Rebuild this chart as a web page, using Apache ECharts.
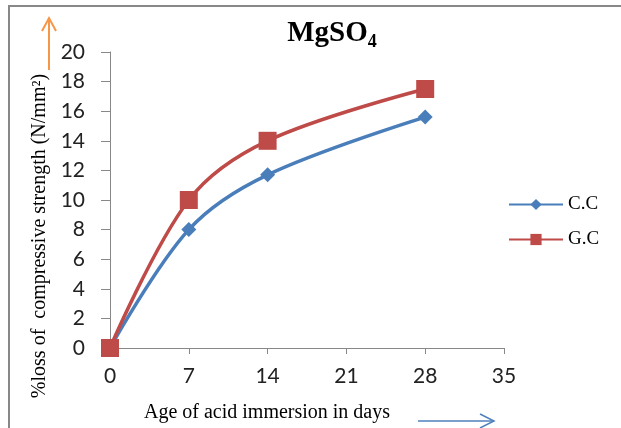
<!DOCTYPE html>
<html><head><meta charset="utf-8">
<script src="https://cdn.jsdelivr.net/npm/echarts@6/dist/echarts.min.js"></script>
<style>html,body{margin:0;padding:0;background:#fff}#c{width:621px;height:428px}</style>
</head><body><div id="c"></div>
<script>
const days = [0, 7, 14, 28];
const ccValues = [0, 8, 11.7, 15.6];
const gcValues = [0, 10, 14, 17.5];
const seriesNames = ['C.C', 'G.C'];
const xTicks = [0, 7, 14, 21, 28, 35];
const yTicks = [0, 2, 4, 6, 8, 10, 12, 14, 16, 18, 20];

const chart = echarts.init(document.getElementById('c'), null, {renderer: 'canvas'});
const serif = '"Liberation Serif", "DejaVu Serif", serif';
const sans = 'Lato, "Noto Sans", sans-serif';
chart.setOption({
  animation: false,
  backgroundColor: '#fff',
  title: {
    text: '{a|MgSO}{b|4}',
    left: 327, top: 12, textAlign: 'center',
    textStyle: {rich: {
      a: {fontFamily: serif, fontWeight: 'bold', fontSize: 29, color: '#000'},
      b: {fontFamily: serif, fontWeight: 'bold', fontSize: 18, color: '#000', padding: [16, 0, 0, 0]}
    }}
  },
  legend: {
    orient: 'vertical', left: 503, top: 190, itemGap: 16,
    itemWidth: 54, itemHeight: 14,
    textStyle: {fontFamily: serif, fontSize: 19, color: '#000'},
    data: seriesNames
  },
  grid: {left: 110, top: 52, right: 117, bottom: 77},
  xAxis: {
    type: 'value', min: xTicks[0], max: xTicks[xTicks.length - 1], interval: 7,
    name: 'Age of acid immersion in days', nameLocation: 'middle', nameGap: 55,
    nameTextStyle: {fontFamily: serif, fontSize: 20, color: '#000', padding: [0, 80, 0, 0]},
    axisLine: {lineStyle: {color: '#888'}},
    axisTick: {show: true, length: 6, lineStyle: {color: '#888'}},
    axisLabel: {fontFamily: sans, fontSize: 21, color: '#222', margin: 18},
    splitLine: {show: false}
  },
  yAxis: {
    type: 'value', min: yTicks[0], max: yTicks[yTicks.length - 1], interval: 2,
    name: '%loss of  compressive strength (N/mm²)', nameLocation: 'middle', nameGap: 50,
    nameRotate: 90,
    nameTextStyle: {fontFamily: serif, fontSize: 20, color: '#000', padding: [0, 72, 8, 0]},
    axisLine: {show: true, lineStyle: {color: '#888'}},
    axisTick: {show: true, length: 9, inside: false, lineStyle: {color: '#888'}},
    axisLabel: {fontFamily: sans, fontSize: 21, color: '#222', margin: 25},
    splitLine: {show: false}
  },
  graphic: [
    {type: 'polyline', shape: {points: [[9, 428], [9, 6], [621, 6]]}, style: {stroke: '#888', lineWidth: 2, fill: null}},
    {type: 'line', shape: {x1: 49, y1: 70, x2: 49, y2: 18}, style: {stroke: '#f79646', lineWidth: 2}},
    {type: 'polyline', shape: {points: [[42, 31], [49, 18], [56, 31]]}, style: {stroke: '#f79646', lineWidth: 2, fill: null}},
    {type: 'line', shape: {x1: 418, y1: 421, x2: 494, y2: 421}, style: {stroke: '#4f81bd', lineWidth: 1.5}},
    {type: 'polyline', shape: {points: [[480, 414], [494, 421], [480, 428]]}, style: {stroke: '#4f81bd', lineWidth: 1.5, fill: null}}
  ],
  series: [
    {name: seriesNames[0], type: 'line', smooth: 0.35, data: days.map((d, i) => [d, ccValues[i]]),
     symbol: 'diamond', symbolSize: 15, lineStyle: {color: '#4a7ebb', width: 3.5},
     itemStyle: {color: '#4a7ebb'}},
    {name: seriesNames[1], type: 'line', smooth: 0.35, data: days.map((d, i) => [d, gcValues[i]]),
     symbol: 'rect', symbolSize: 18, lineStyle: {color: '#be4b48', width: 3.5},
     itemStyle: {color: '#be4b48'}}
  ]
});
</script></body></html>
